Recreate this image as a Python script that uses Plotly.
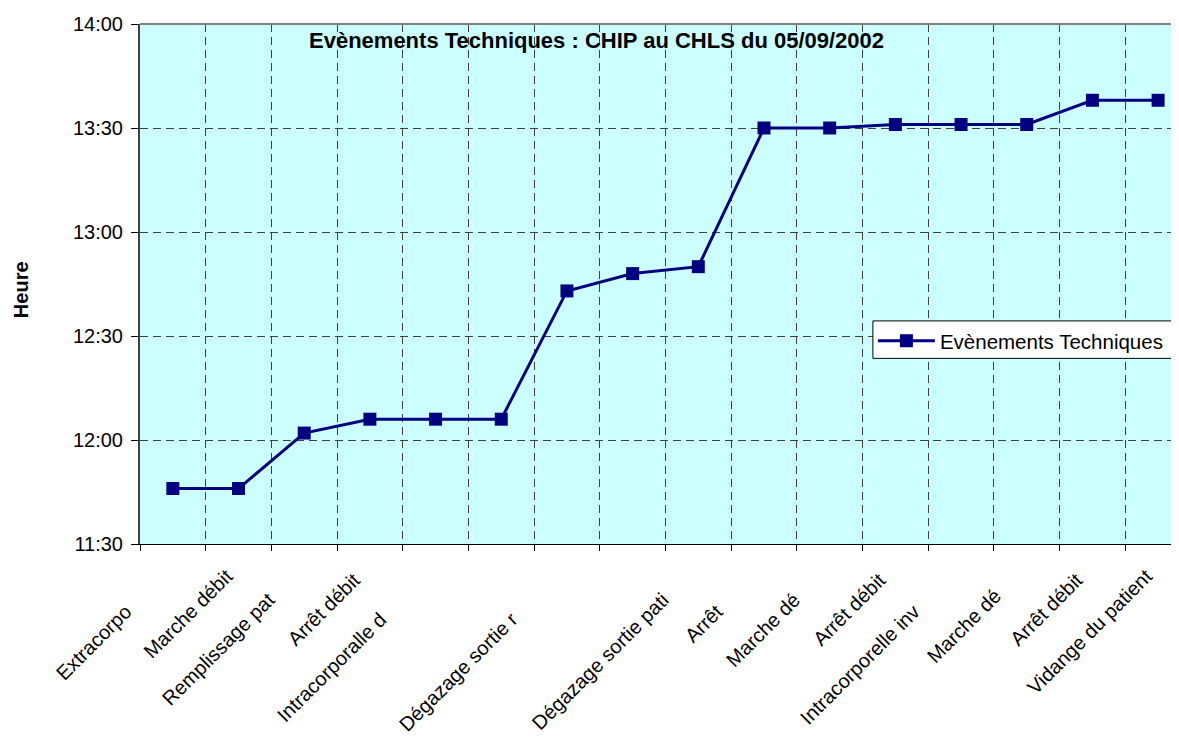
import plotly.graph_objects as go

# ---- data ----
categories = ["Extracorpo", "Marche débit", "Remplissage pat", "Arrêt débit",
              "Intracorporalle d", "", "Dégazage sortie r", "",
              "Dégazage sortie pati", "Arrêt", "Marche dé", "Arrêt débit",
              "Intracorporelle inv", "Marche dé", "Arrêt débit", "Vidange du patient"]
times = ["11:46", "11:46", "12:02", "12:06", "12:06", "12:06", "12:43", "12:48",
         "12:50", "13:30", "13:30", "13:31", "13:31", "13:31", "13:38", "13:38"]
y_ticks = ["11:30", "12:00", "12:30", "13:00", "13:30", "14:00"]
date = "2002-09-05"
series_name = "Evènements Techniques"
title = "Evènements Techniques : CHIP au CHLS du 05/09/2002"

# ---- styling helpers (label end offsets, as in the clipped Excel labels) ----
label_pad = [12, 3, 9, 4, 14, 0, 14, 0, 9, 12, 9, 4, 12, 8, 4, 3]
NB = "\u00a0"
ticktext = [c + NB * p if c else "" for c, p in zip(categories, label_pad)]
xs = list(range(len(categories)))
ys = [f"{date} {t}:00" for t in times]

FONT = "Liberation Sans, Arial, sans-serif"
NAVY = "#000080"
GRID = "#404040"
LEG_X, LEG_TOP, LEG_BOTTOM = 0.700, 0.429, 0.357

fig = go.Figure()
fig.add_trace(go.Scatter(
    x=xs, y=ys, mode="lines+markers", name=series_name,
    line=dict(color=NAVY, width=3),
    marker=dict(symbol="square", size=13, color=NAVY),
))

fig.update_layout(
    width=1179, height=740,
    margin=dict(l=132, r=0, t=16, b=204),
    paper_bgcolor="white",
    plot_bgcolor="#CCFFFF",
    font=dict(family=FONT, size=20, color="black"),
    showlegend=True,
    legend=dict(
        x=LEG_X, y=LEG_TOP, xanchor="left", yanchor="top",
        bgcolor="rgba(0,0,0,0)", borderwidth=0,
        font=dict(family=FONT, size=20.5, color="black"),
        itemwidth=57,
    ),
    xaxis=dict(
        range=[-0.5, 15.44],
        tickmode="array", tickvals=xs, ticktext=ticktext,
        tickangle=-45, ticks="", showgrid=False, zeroline=False,
        showline=True, linecolor="black", linewidth=1,
        tickfont=dict(family=FONT, size=20, color="black"),
        minor=dict(tickmode="linear", tick0=-0.5, dtick=1,
                   ticks="outside", ticklen=6, tickcolor="black",
                   showgrid=True, gridcolor=GRID, gridwidth=1,
                   griddash="8px,5px"),
    ),
    yaxis=dict(
        type="date",
        range=[f"{date} {y_ticks[0]}:00", f"{date} {y_ticks[-1]}:00"],
        tickmode="array",
        tickvals=[f"{date} {t}:00" for t in y_ticks],
        ticktext=y_ticks,
        ticks="outside", ticklen=7, tickcolor="black",
        ticklabelstandoff=4,
        showgrid=True, gridcolor=GRID, gridwidth=1, griddash="8px,5px",
        showline=True, linecolor=GRID, linewidth=2,
        zeroline=False,
        tickfont=dict(family=FONT, size=20, color="black"),
    ),
    annotations=[
        dict(text=f"<b>{title}</b>", xref="paper", yref="paper",
             x=0.436, y=0.969, xanchor="center", yanchor="middle",
             showarrow=False, font=dict(family=FONT, size=22, color="black")),
        dict(text="<b>Heure</b>", xref="paper", yref="paper",
             x=-0.1137, y=0.49, xanchor="center", yanchor="middle",
             textangle=-90, showarrow=False,
             font=dict(family=FONT, size=20, color="black")),
    ],
    shapes=[
        dict(type="line", xref="paper", yref="paper", x0=0, x1=1, y0=1, y1=1,
             line=dict(color="#808080", width=2)),
        dict(type="rect", xref="paper", yref="paper", layer="above",
             x0=LEG_X, x1=1.1, y0=LEG_BOTTOM, y1=LEG_TOP,
             fillcolor="white", line=dict(color="black", width=1)),
    ],
)

fig.write_html("out.html")
